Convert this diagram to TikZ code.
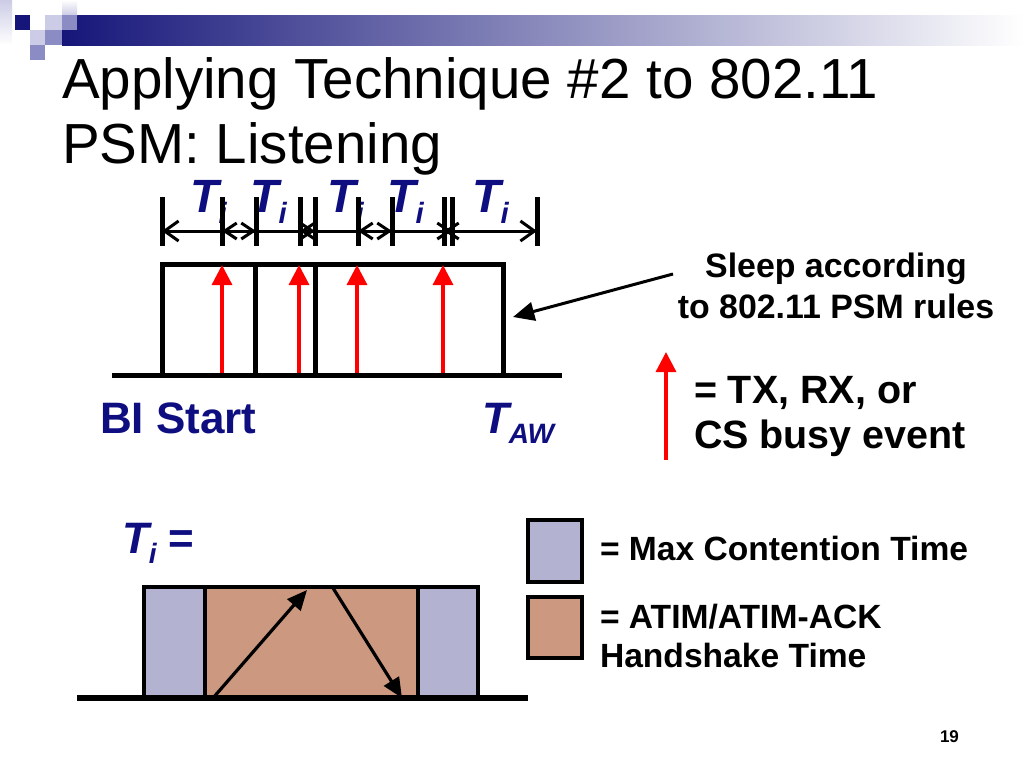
\documentclass[tikz,border=0pt]{standalone}
\usepackage{fontspec}
\setmainfont{Liberation Sans}
\usetikzlibrary{arrows.meta}
\definecolor{navytxt}{RGB}{14,14,128}
\definecolor{barnavy}{RGB}{22,22,122}
\definecolor{lav}{RGB}{179,179,209}
\definecolor{lavmid}{RGB}{140,140,196}
\definecolor{lavlight}{RGB}{204,204,230}
\definecolor{tanbox}{RGB}{204,153,128}
\definecolor{evred}{RGB}{255,0,0}
\tikzset{
  txt/.style={anchor=base west,inner sep=0pt,outer sep=0pt},
  titletxt/.style={txt,font=\fontsize{42.4}{48}\selectfont},
  sleeptxt/.style={anchor=base,inner sep=0pt,font=\bfseries\fontsize{25.4}{30}\selectfont},
  evtxt/.style={txt,font=\bfseries\fontsize{29.6}{34}\selectfont},
  legtxt/.style={txt,font=\bfseries\fontsize{25.2}{30}\selectfont},
  tilabel/.style={txt,text=navytxt,font=\bfseries\itshape\fontsize{35}{40}\selectfont},
  biglabel/.style={txt,text=navytxt,font=\bfseries\fontsize{33}{38}\selectfont},
  tickmark/.style={line width=3.75pt},
  tiline/.style={line width=2.25pt},
  bigbarb/.tip={Straight Barb[length=10.5pt,width=15pt]},
  smallbarb/.tip={Straight Barb[length=9pt,width=12pt]},
  pulse/.style={line width=3.75pt,line join=miter},
  evarrow/.style={draw=evred,line width=2.5pt,-{Triangle[length=15pt,width=15pt]}},
  blkarrow/.style={line width=2.25pt,-{Triangle[length=16pt,width=14pt]}},
  hsarrow/.style={line width=2.4pt,-{Triangle[length=15pt,width=13pt]}},
  boxline/.style={line width=3pt,line join=miter},
}
\begin{document}
\begin{tikzpicture}[x=0.75pt,y=-0.75pt]
\useasboundingbox (0,0) rectangle (1024,768);
\fill[white] (0,0) rectangle (1024,768);
% header
\shade[top color=lavlight,bottom color=white] (0,0) rectangle (12,45);
\shade[left color=barnavy,right color=white] (62,15) rectangle (1024,45);
\shade[top color=white,bottom color=lavlight] (62,0) rectangle (77,15);
\fill[barnavy] (15,15) rectangle (30,30);
\fill[lavlight] (45,15) rectangle (62,30);
\fill[lavmid] (62,15) rectangle (77,30);
\fill[lavlight] (30,30) rectangle (45,45);
\fill[lavmid] (45,30) rectangle (62,45);
\fill[lavmid] (30,45) rectangle (45,60);
% title
\node[titletxt] (title1) at (62,98) {Applying Technique \#2 to 802.11};
\node[titletxt] (title2) at (62,163) {PSM: Listening};
% T_i labels
\foreach \n/\x in {1/190,2/250,3/327,4/387,5/472}{
  \node[tilabel] (ti\n) at (\x,212) {T\raisebox{-8.25pt}{\fontsize{22}{22}\selectfont i}};
}
% tick coordinates
\foreach \n/\x in {1/162,2/222,3/256,4/300,5/315,6/358,7/392,8/444,9/452,10/537}{
  \coordinate (k\n) at (\x,231);
  \coordinate (k\n t) at (\x,197);
  \coordinate (k\n b) at (\x,246);
}
\draw[tiline,bigbarb-bigbarb] (k1) -- (k10);
\draw[tiline,smallbarb-smallbarb] (k2) -- (k3);
\draw[tiline,smallbarb-smallbarb] (k4) -- (k5);
\draw[tiline,smallbarb-smallbarb] (k6) -- (k7);
\draw[tiline,smallbarb-smallbarb] (k8) -- (k9);
\foreach \n in {1,...,10}{
  \draw[tickmark] (k\n t) -- (k\n b);
}
% pulse box
\coordinate (pl) at (162,375);
\coordinate (pr) at (503,375);
\draw[pulse] (pl) -- (162,264) -- (503,264) -- (pr);
\draw[pulse] (255,264) -- (255,375);
\draw[pulse] (315,264) -- (315,375);
% red events
\foreach \n/\x in {1/222,2/299,3/357,4/443}{
  \coordinate (e\n b) at (\x,375);
  \coordinate (e\n t) at (\x,265);
  \draw[evarrow] (e\n b) -- (e\n t);
}
\coordinate (base1) at (112,375);
\coordinate (base2) at (562,375);
\draw[pulse] (base1) -- (base2);
% labels under
\node[biglabel] (bistart) at (100,433) {BI Start};
\node[biglabel,font=\bfseries\itshape\fontsize{33}{38}\selectfont] (taw) at (482,433) {T\raisebox{-7.5pt}{\fontsize{21}{21}\selectfont AW}};
% sleep annotation
\node[sleeptxt] (sleep1) at (836,277) {Sleep according};
\node[sleeptxt] (sleep2) at (836,318) {to 802.11 PSM rules};
\coordinate (sleepfrom) at (673,274);
\coordinate (sleepto) at (513,317);
\draw[blkarrow] (sleepfrom) -- (sleepto);
% event legend
\coordinate (lega) at (666,460);
\coordinate (legb) at (666,352);
\draw[evarrow] (lega) -- (legb);
\node[evtxt] (ev1) at (694,403) {= TX, RX, or};
\node[evtxt] (ev2) at (694,448) {CS busy event};
% bottom: T_i =
\node[tilabel,font=\bfseries\itshape\fontsize{33}{38}\selectfont] (tieq) at (122,553) {T\raisebox{-7.5pt}{\fontsize{21}{21}\selectfont i}\upshape\ =};
\draw[boxline,fill=lav] (144,587) rectangle (205,698);
\draw[boxline,fill=tanbox] (205,587) rectangle (418,698);
\draw[boxline,fill=lav] (418,587) rectangle (478,698);
\coordinate (h1a) at (213,698);
\coordinate (h1b) at (307,590);
\coordinate (h2a) at (333,588);
\coordinate (h2b) at (402,698);
\draw[hsarrow] (h1a) -- (h1b);
\draw[hsarrow] (h2a) -- (h2b);
\draw[line width=4.5pt] (77,698) -- (528,698);
% legend boxes
\draw[boxline,fill=lav] (528,520) rectangle (582,582);
\draw[boxline,fill=tanbox] (528,597) rectangle (582,658);
\node[legtxt] (leg1) at (600,560) {= Max Contention Time};
\node[legtxt] (leg2) at (600,628) {= ATIM/ATIM-ACK};
\node[legtxt] (leg3) at (600,667) {Handshake Time};
% page number
\node[txt,font=\bfseries\fontsize{12.75}{14}\selectfont] (pgno) at (940,742) {19};
\end{tikzpicture}
\end{document}
